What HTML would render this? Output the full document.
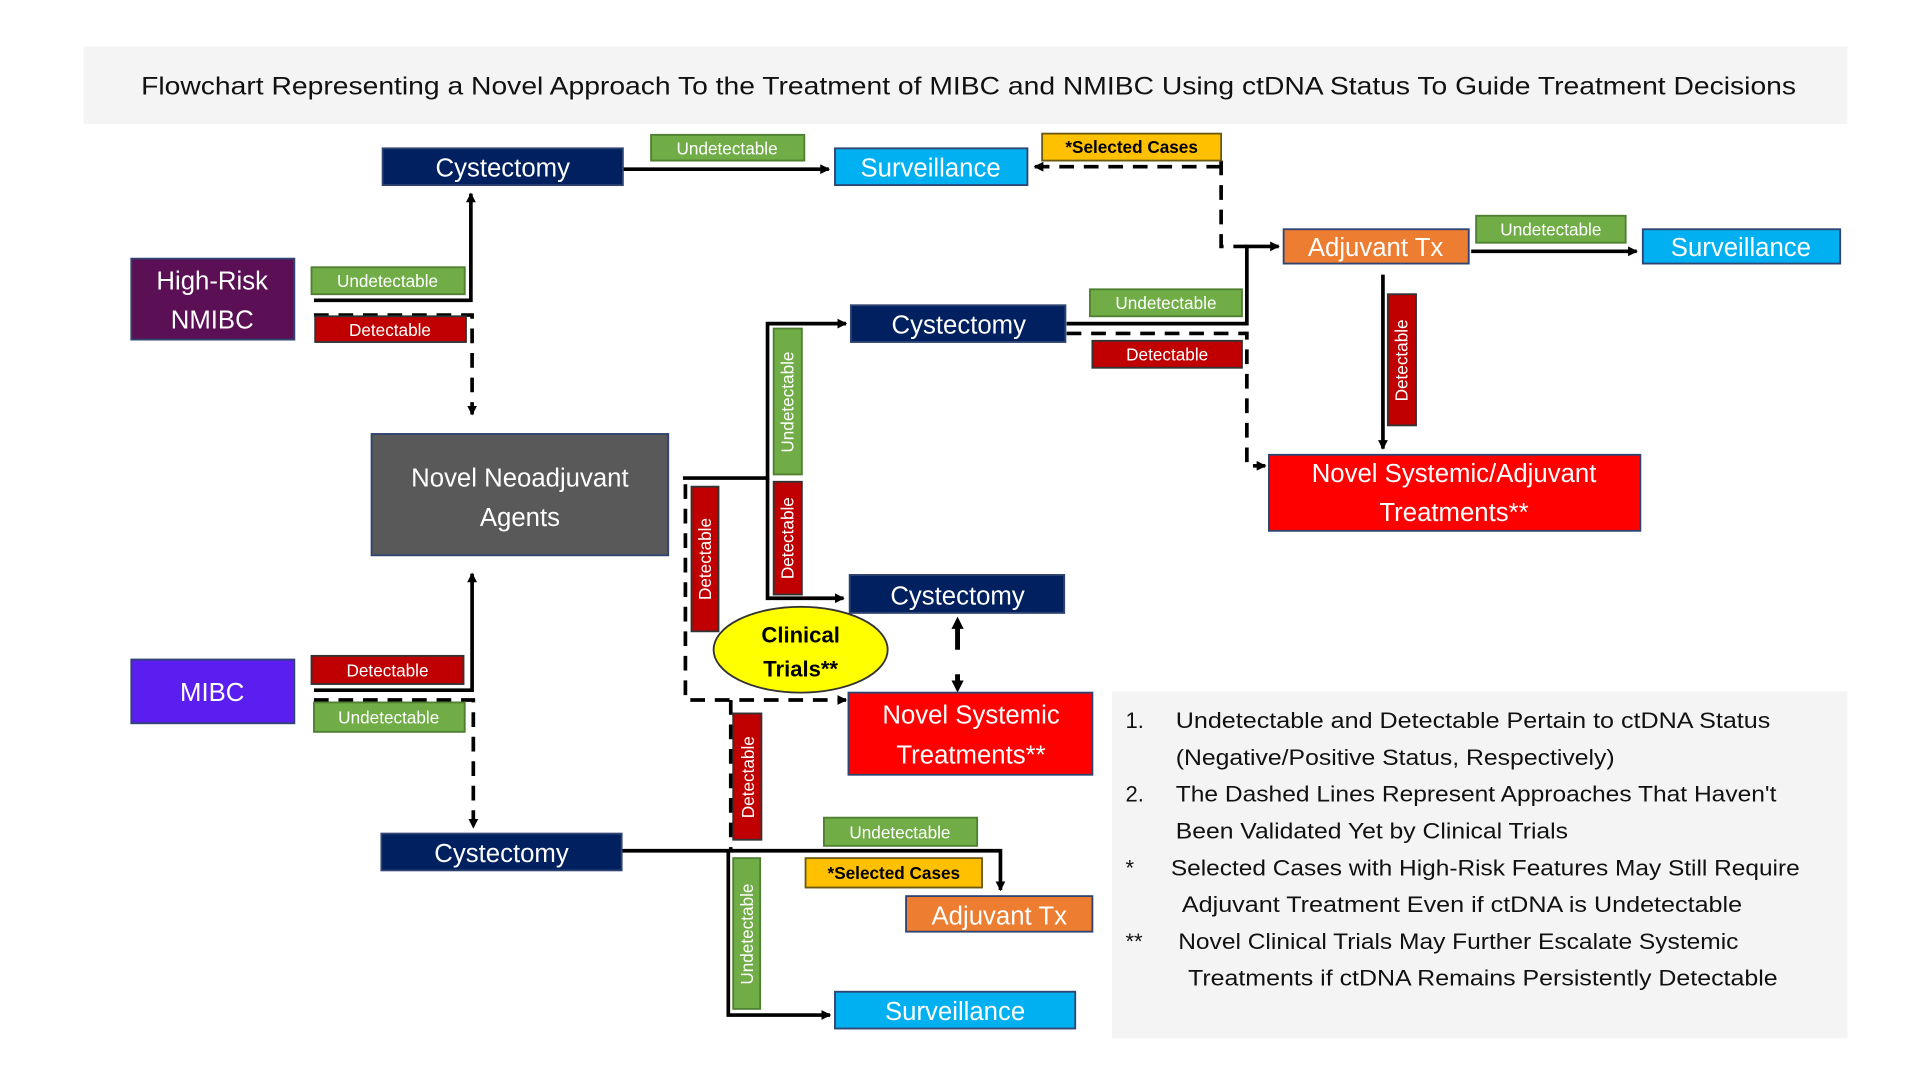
<!DOCTYPE html>
<html><head><meta charset="utf-8"><style>
html,body{margin:0;padding:0;background:#fff;}
svg{display:block;}
text{font-family:"Liberation Sans",sans-serif;}
</style></head><body>
<svg width="1920" height="1080" viewBox="0 0 1566 881" xmlns="http://www.w3.org/2000/svg">
<defs>
<marker id="a" markerWidth="8" markerHeight="8" refX="7" refY="4" orient="auto" markerUnits="userSpaceOnUse"><path d="M0,0 L8,4 L0,8 z" fill="#000"/></marker>
<marker id="as" markerWidth="10" markerHeight="10" refX="5" refY="5" orient="auto-start-reverse" markerUnits="userSpaceOnUse"><path d="M0,0 L10,5 L0,10 z" fill="#000"/></marker>
</defs>
<rect x="0" y="0" width="1566" height="881" fill="#fff"/>
<rect x="68" y="38" width="1439" height="63" fill="#f4f4f4"/>
<text x="790" y="77" font-size="20" text-anchor="middle" fill="#111" textLength="1350" lengthAdjust="spacingAndGlyphs">Flowchart Representing a Novel Approach To the Treatment of MIBC and NMIBC Using ctDNA Status To Guide Treatment Decisions</text>

<rect x="907" y="564" width="600" height="283" fill="#f4f4f4"/>
<g font-size="18" fill="#111">
<text x="918" y="594">1.</text><text x="959" y="594" textLength="485" lengthAdjust="spacingAndGlyphs">Undetectable and Detectable Pertain to ctDNA Status</text>
<text x="959" y="624" textLength="358" lengthAdjust="spacingAndGlyphs">(Negative/Positive Status, Respectively)</text>
<text x="918" y="654">2.</text><text x="959" y="654" textLength="490" lengthAdjust="spacingAndGlyphs">The Dashed Lines Represent Approaches That Haven't</text>
<text x="959" y="684" textLength="320" lengthAdjust="spacingAndGlyphs">Been Validated Yet by Clinical Trials</text>
<text x="918" y="714">*</text><text x="955" y="714" textLength="513" lengthAdjust="spacingAndGlyphs">Selected Cases with High-Risk Features May Still Require</text>
<text x="964" y="744" textLength="457" lengthAdjust="spacingAndGlyphs">Adjuvant Treatment Even if ctDNA is Undetectable</text>
<text x="918" y="774">**</text><text x="961" y="774" textLength="457" lengthAdjust="spacingAndGlyphs">Novel Clinical Trials May Further Escalate Systemic</text>
<text x="969" y="804" textLength="481" lengthAdjust="spacingAndGlyphs">Treatments if ctDNA Remains Persistently Detectable</text>
</g>

<g stroke="#000" stroke-width="3" fill="none">
<path d="M508,138 H676" marker-end="url(#a)"/>
<path d="M1200,205 H1335" marker-end="url(#a)"/>
<path d="M870,264 H1017 V201 H1043" marker-end="url(#a)"/>
<path d="M1128,224 V366" marker-end="url(#a)"/>
<path d="M256,245 H384 V158" marker-end="url(#a)"/>
<path d="M256,563 H385 V468" marker-end="url(#a)"/>
<path d="M557,390 H626 V264 H690" marker-end="url(#a)"/>
<path d="M626,390 V488 H688" marker-end="url(#a)"/>
<path d="M507,694 H816 V726" marker-end="url(#a)"/>
<path d="M594,694 V828 H677" marker-end="url(#a)"/>
</g>
<g stroke="#000" stroke-width="3" fill="none" stroke-dasharray="12,8">
<path d="M996,131 V201 H1017"/>
<path d="M996,136 H844" marker-end="url(#a)"/>
<path d="M870,272 H1017 V380 H1032" marker-end="url(#a)"/>
<path d="M256,257 H385 V338" marker-end="url(#a)"/>
<path d="M256,571 H386 V675" marker-end="url(#a)"/>
<path d="M559,395 V571 H690" marker-end="url(#a)"/>
<path d="M596,571 V694"/>
<path d="M781,508 V560" stroke-width="4" stroke-dasharray="22,20" marker-start="url(#as)" marker-end="url(#as)"/>
</g>

<g stroke="#2f4470" stroke-width="1.5">
<rect x="312" y="121" width="196" height="30" fill="#002060"/>
<rect x="681" y="121" width="157" height="30" fill="#00b0f0"/>
<rect x="1047" y="187" width="151" height="28" fill="#ed7d31"/>
<rect x="1340" y="187" width="161" height="28" fill="#00b0f0"/>
<rect x="107" y="211" width="133" height="66" fill="#5b0f54"/>
<rect x="694" y="249" width="175" height="30" fill="#002060"/>
<rect x="303" y="354" width="242" height="99" fill="#595959"/>
<rect x="1035" y="371" width="303" height="62" fill="#ff0000"/>
<rect x="693" y="469" width="175" height="31" fill="#002060"/>
<rect x="107" y="538" width="133" height="52" fill="#5a1ef0"/>
<rect x="692" y="565" width="199" height="67" fill="#ff0000"/>
<rect x="311" y="680" width="196" height="30" fill="#002060"/>
<rect x="739" y="731" width="152" height="29" fill="#ed7d31"/>
<rect x="681" y="809" width="196" height="30" fill="#00b0f0"/>
</g>
<ellipse cx="653" cy="530" rx="71" ry="35" fill="#ffff00" stroke="#333" stroke-width="1.5"/>

<g fill="#fff" font-size="21" text-anchor="middle">
<text x="410" y="144">Cystectomy</text>
<text x="759" y="144">Surveillance</text>
<text x="1122" y="209">Adjuvant Tx</text>
<text x="1420" y="209">Surveillance</text>
<text x="173" y="236">High-Risk</text>
<text x="173" y="268">NMIBC</text>
<text x="782" y="272">Cystectomy</text>
<text x="424" y="397">Novel Neoadjuvant</text>
<text x="424" y="429">Agents</text>
<text x="1186" y="393">Novel Systemic/Adjuvant</text>
<text x="1186" y="425">Treatments**</text>
<text x="781" y="493">Cystectomy</text>
<text x="173" y="572">MIBC</text>
<text x="792" y="590">Novel Systemic</text>
<text x="792" y="623">Treatments**</text>
<text x="409" y="703">Cystectomy</text>
<text x="815" y="754">Adjuvant Tx</text>
<text x="779" y="832">Surveillance</text>
</g>
<g font-size="18" font-weight="bold" text-anchor="middle" fill="#000">
<text x="653" y="524">Clinical</text>
<text x="653" y="552">Trials**</text>
</g>

<g stroke-width="1.5">
<rect x="531" y="110" width="125" height="21" fill="#70ad47" stroke="#4f7f30"/>
<rect x="850" y="109" width="146" height="22" fill="#ffc000" stroke="#6b5a10"/>
<rect x="1204" y="176" width="122" height="22" fill="#70ad47" stroke="#4f7f30"/>
<rect x="254" y="218" width="125" height="22" fill="#70ad47" stroke="#4f7f30"/>
<rect x="257" y="258" width="123" height="21" fill="#c00000" stroke="#333"/>
<rect x="889" y="236" width="124" height="22" fill="#70ad47" stroke="#4f7f30"/>
<rect x="891" y="278" width="122" height="22" fill="#c00000" stroke="#333"/>
<rect x="254" y="535" width="124" height="23" fill="#c00000" stroke="#333"/>
<rect x="256" y="573" width="123" height="24" fill="#70ad47" stroke="#4f7f30"/>
<rect x="672" y="667" width="125" height="23" fill="#70ad47" stroke="#4f7f30"/>
<rect x="657" y="700" width="144" height="24" fill="#ffc000" stroke="#6b5a10"/>
<rect x="1132" y="240" width="23" height="107" fill="#c00000" stroke="#333"/>
<rect x="631" y="268" width="23" height="119" fill="#70ad47" stroke="#4f7f30"/>
<rect x="631" y="393" width="23" height="92" fill="#c00000" stroke="#333"/>
<rect x="564" y="397" width="22" height="118" fill="#c00000" stroke="#333"/>
<rect x="598" y="582" width="23" height="103" fill="#c00000" stroke="#333"/>
<rect x="598" y="700" width="22" height="123" fill="#70ad47" stroke="#4f7f30"/>
</g>
<g font-size="14" fill="#fff" text-anchor="middle">
<text x="593" y="126">Undetectable</text>
<text x="1265" y="192">Undetectable</text>
<text x="316" y="234">Undetectable</text>
<text x="318" y="274">Detectable</text>
<text x="951" y="252">Undetectable</text>
<text x="952" y="294">Detectable</text>
<text x="316" y="552">Detectable</text>
<text x="317" y="590">Undetectable</text>
<text x="734" y="684">Undetectable</text>
<text transform="translate(1148,294) rotate(-90)">Detectable</text>
<text transform="translate(647,328) rotate(-90)">Undetectable</text>
<text transform="translate(647,439) rotate(-90)">Detectable</text>
<text transform="translate(580,456) rotate(-90)">Detectable</text>
<text transform="translate(615,634) rotate(-90)">Detectable</text>
<text transform="translate(614,762) rotate(-90)">Undetectable</text>
</g>
<g font-size="14" font-weight="bold" fill="#000" text-anchor="middle">
<text x="923" y="125">*Selected Cases</text>
<text x="729" y="717">*Selected Cases</text>
</g>
</svg>
</body></html>
